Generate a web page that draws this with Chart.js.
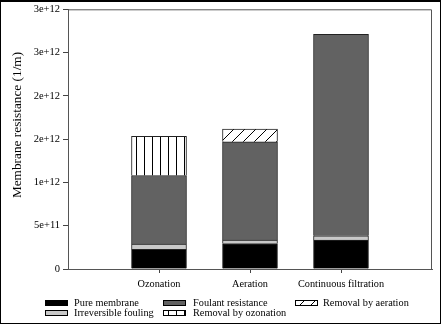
<!DOCTYPE html>
<html>
<head>
<meta charset="utf-8">
<script src="https://cdn.jsdelivr.net/npm/chart.js@4"></script>
<style>
  html, body { margin: 0; padding: 0; background: #fff; }
  #wrap { position: relative; width: 441px; height: 327px; }
  #frame { position: absolute; left: 0; top: 0; width: 441px; height: 324px; box-sizing: border-box;
           border: 1px solid #000; border-top-width: 2px; pointer-events: none; }
</style>
</head>
<body>
<div id="wrap">
  <canvas id="chart" width="441" height="327"></canvas>
  <div id="frame"></div>
</div>
<script>
const categories = ["Ozonation", "Aeration", "Continuous filtration"];
const pureMembrane = [0.226e12, 0.295e12, 0.333e12];
const irreversibleFouling = [0.061e12, 0.038e12, 0.05e12];
const foulantResistance = [0.793e12, 1.137e12, 2.327e12];
const removalByOzonation = [0.452e12, null, null];
const removalByAeration = [null, 0.145e12, null];
const yTickLabels = ["0", "5e+11", "1e+12", "2e+12", "2e+12", "3e+12", "3e+12"];
const yTitle = "Membrane resistance (1/m)";

const FONT = "'Liberation Serif', 'Times New Roman', serif";

function makePattern(kind) {
  const c = document.createElement("canvas");
  const p = c.getContext("2d");
  if (kind === "vert") {
    c.width = 8; c.height = 8;
    p.fillStyle = "#fff"; p.fillRect(0, 0, 8, 8);
    p.fillStyle = "#000"; p.fillRect(0, 0, 1, 8);
  } else {
    c.width = 11; c.height = 11;
    p.fillStyle = "#fff"; p.fillRect(0, 0, 11, 11);
    p.strokeStyle = "#000"; p.lineWidth = 1;
    p.beginPath();
    p.moveTo(0, 11); p.lineTo(11, 0);
    p.moveTo(-1, 1); p.lineTo(1, -1);
    p.moveTo(10, 12); p.lineTo(12, 10);
    p.stroke();
  }
  return p.createPattern(c, "repeat");
}

// pad with empty categories at both ends so bars sit at 1/4, 1/2, 3/4
const pad = arr => [null, ...arr, null];

const series = [
  { label: "Pure membrane", data: pureMembrane, color: "#000000" },
  { label: "Irreversible fouling", data: irreversibleFouling, color: "#c8c8c8" },
  { label: "Foulant resistance", data: foulantResistance, color: "#626262" },
  { label: "Removal by ozonation", data: removalByOzonation, color: makePattern("vert") },
  { label: "Removal by aeration", data: removalByAeration, color: makePattern("diag") }
];

// legend laid out in columns like the original
const legendSlots = [
  { i: 0, x: 45, y: 300, tx: 74 }, { i: 1, x: 45, y: 310, tx: 74 },
  { i: 2, x: 163, y: 300, tx: 193 }, { i: 3, x: 163, y: 310, tx: 193 },
  { i: 4, x: 295, y: 300, tx: 323 }
];

const extras = {
  id: "extras",
  afterDraw(chart) {
    const ctx = chart.ctx;
    const a = chart.chartArea;
    ctx.save();
    ctx.strokeStyle = "#555";
    ctx.lineWidth = 1;
    ctx.beginPath();
    ctx.moveTo(a.left, a.top + 0.5);
    ctx.lineTo(a.right - 0.5, a.top + 0.5);
    ctx.lineTo(a.right - 0.5, a.bottom);
    ctx.stroke();

    // y title sits a bit above the middle of the axis in the original
    ctx.save();
    ctx.translate(18, 125);
    ctx.rotate(-Math.PI / 2);
    ctx.font = "13.3px " + FONT;
    ctx.fillStyle = "#000";
    ctx.textAlign = "center";
    ctx.textBaseline = "middle";
    ctx.fillText(yTitle, 0, 0);
    ctx.restore();

    ctx.font = "10.3px " + FONT;
    ctx.textBaseline = "middle";
    legendSlots.forEach(s => {
      const ds = chart.data.datasets[s.i];
      ctx.fillStyle = ds.backgroundColor;
      ctx.fillRect(s.x, s.y, 23, 6);
      ctx.strokeStyle = "#000";
      ctx.strokeRect(s.x + 0.5, s.y + 0.5, 22, 5);
      ctx.fillStyle = "#000";
      ctx.fillText(ds.label, s.tx, s.y + 3.5);
    });
    ctx.restore();
  }
};

new Chart(document.getElementById("chart").getContext("2d"), {
  type: "bar",
  data: {
    labels: ["", ...categories, ""],
    datasets: series.map(s => ({
      label: s.label,
      data: pad(s.data),
      backgroundColor: s.color,
      borderColor: "#222",
      borderWidth: 1,
      barThickness: 55
    }))
  },
  options: {
    responsive: false,
    animation: false,
    layout: { padding: { top: 9, right: 9, left: 0, bottom: 0 } },
    plugins: { legend: { display: false }, tooltip: { enabled: false } },
    scales: {
      x: {
        stacked: true,
        offset: false,
        afterFit: s => { s.height = 58; },
        grid: {
          offset: false,
          drawOnChartArea: false,
          tickLength: 4,
          tickColor: c => (c.index === 0 || c.index === categories.length + 1) ? "rgba(0,0,0,0)" : "#444"
        },
        border: { color: "#555", width: 1 },
        ticks: { color: "#000", font: { family: FONT, size: 10.3 }, padding: 5, maxRotation: 0, autoSkip: false }
      },
      y: {
        stacked: true,
        min: 0,
        max: 3e12,
        afterFit: s => { s.width = 68; },
        grid: { drawOnChartArea: false, tickLength: 5, tickColor: "#444" },
        border: { color: "#555", width: 1 },
        ticks: {
          stepSize: 0.5e12,
          color: "#000",
          padding: 3,
          font: { family: FONT, size: 10.5 },
          callback: (v, i) => yTickLabels[i]
        }
      }
    }
  },
  plugins: [extras]
});
</script>
</body>
</html>
